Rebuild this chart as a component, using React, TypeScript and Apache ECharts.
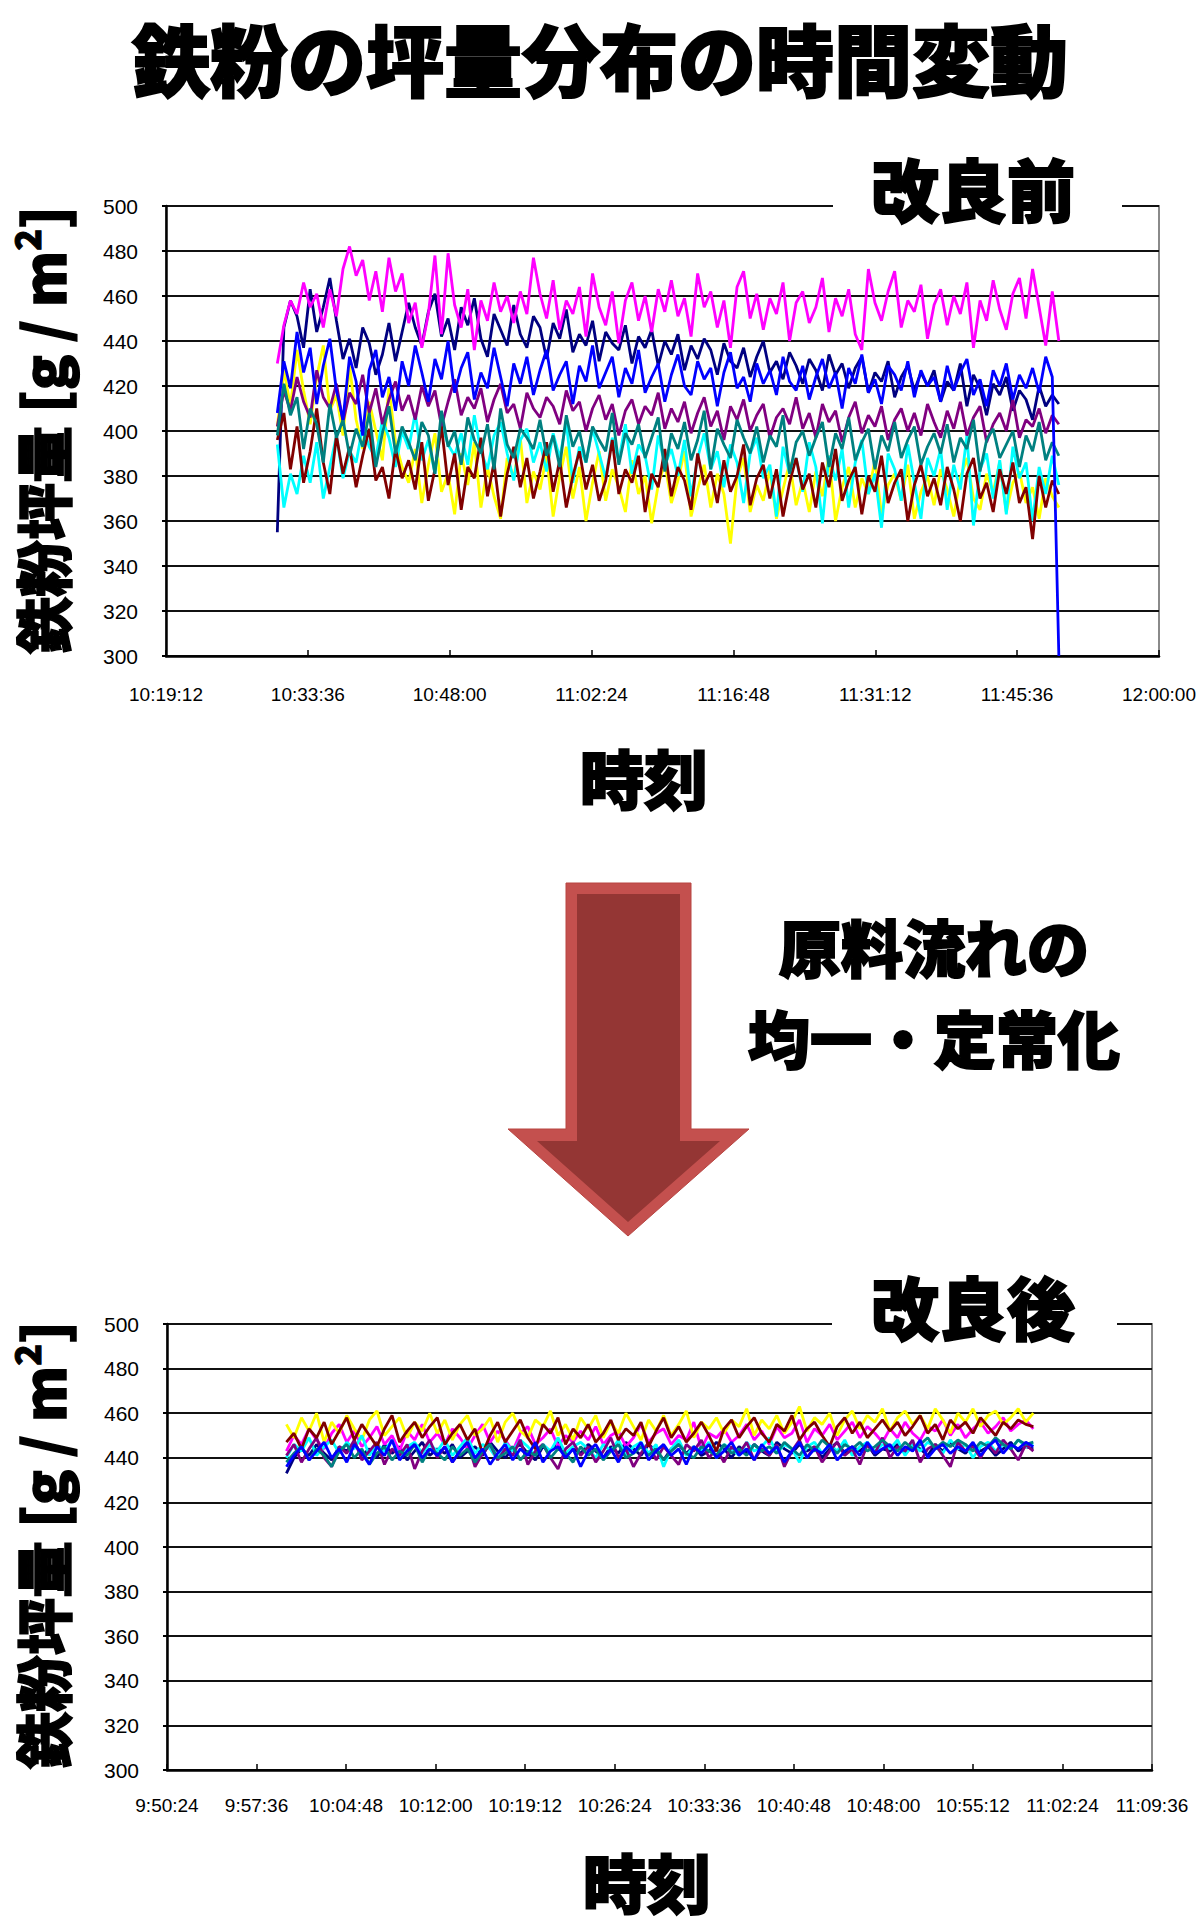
import React, { useEffect, useRef } from "react";
import * as echarts from "echarts";

// ---- tick labels ----
const topTimeTicks = ["10:19:12", "10:33:36", "10:48:00", "11:02:24", "11:16:48", "11:31:12", "11:45:36", "12:00:00"];
const bottomTimeTicks = ["9:50:24", "9:57:36", "10:04:48", "10:12:00", "10:19:12", "10:26:24", "10:33:36", "10:40:48", "10:48:00", "10:55:12", "11:02:24", "11:09:36"];
const yTicks = [300, 320, 340, 360, 380, 400, 420, 440, 460, 480, 500];

// ---- series (Excel default line colours, drawing order) ----
const seriesNames = ["系列1", "系列2", "系列3", "系列4", "系列5", "系列6", "系列7", "系列8"];
const seriesColors = ["#000080", "#FF00FF", "#FFFF00", "#00FFFF", "#800080", "#800000", "#008080", "#0000FF"];

// sampling of the two recordings
const topStart = "10:30:30";
const topStepSec = 40;
const bottomStart = "10:00:00";
const bottomStepSec = 36.4;

// ---- 改良前 (before) ----
const beforeNavy = [
  355, 446, 458, 451, 437, 463, 444, 455, 468, 449, 432, 441, 428, 446, 439, 425, 434, 448, 431, 444,
  457, 446, 438, 453, 461, 442, 450, 436, 455, 447, 459, 441, 433, 452, 445, 438, 456, 443, 437, 451,
  446, 432, 448, 441, 454, 435, 443, 438, 449, 431, 444, 439, 436, 447, 430, 442, 437, 445, 429, 440,
  434, 443, 427, 438, 432, 441, 436, 425, 439, 431, 428, 437, 424, 433, 440, 426, 431, 423, 435, 429,
  421, 432, 427, 418, 434, 425, 430, 419, 428, 433, 417, 426, 422, 431, 415, 424, 429, 418, 426, 420,
  427, 413, 422, 418, 430, 411, 425, 419, 407, 421, 416, 424, 409, 418, 414, 405, 420, 411, 416, 412,
];
const beforeMagenta = [
  430, 447, 458, 452, 466, 455, 461, 446, 463, 451, 472, 482, 469, 476, 458, 471, 453, 477, 462, 470,
  448, 457, 437, 452, 478, 443, 479, 456, 446, 463, 436, 458, 449, 466, 453, 460, 448, 462, 452, 477,
  461, 450, 467, 445, 458, 452, 464, 442, 470, 455, 447, 462, 439, 458, 466, 449, 460, 444, 463, 453,
  467, 451, 459, 442, 470, 455, 462, 446, 458, 437, 464, 471, 450, 461, 445, 459, 452, 466, 440, 457,
  462, 448, 455, 468, 444, 459, 451, 463, 443, 436, 472, 457, 449, 462, 471, 446, 458, 453, 465, 441,
  456, 463, 447, 460, 452, 466, 437, 458, 449, 467, 454, 445, 461, 468, 450, 472, 455, 438, 462, 440,
];
const beforeYellow = [
  402, 427, 411, 436, 418, 403, 424, 438, 409, 416, 398, 429, 405, 392, 413, 400, 387, 419, 395, 384,
  377, 392, 368, 385, 399, 373, 381, 363, 390, 376, 395, 366, 384, 371, 361, 388, 379, 397, 368, 382,
  374, 389, 362, 380, 393, 370, 384, 360, 377, 391, 369, 383, 375, 364, 387, 372, 380, 359, 376, 386,
  368, 378, 391, 362, 374, 385, 366, 381, 372, 350, 379, 388, 364, 376, 369, 383, 361, 374, 386, 367,
  378, 364, 382, 371, 389, 360, 375, 384, 366, 379, 372, 387, 363, 376, 381, 369, 385, 361, 373, 380,
  367, 383, 374, 362, 379, 388, 370, 365, 381, 373, 386, 364, 377, 382, 368, 375, 361, 379, 371, 366,
];
const beforeCyan = [
  394, 366, 381, 372, 389, 377, 395, 370, 384, 398, 379, 391, 386, 402, 393, 388, 405, 397, 384, 400,
  392, 408, 387, 396, 381, 403, 394, 389, 399, 385, 407, 391, 383, 398, 404, 390, 378, 396, 401, 386,
  395, 382, 399, 388, 404, 377, 393, 386, 401, 390, 379, 397, 387, 403, 381, 394, 389, 374, 398, 385,
  392, 380, 396, 371, 388, 399, 383, 391, 375, 394, 386, 368, 390, 397, 379, 385, 362, 393, 381, 388,
  373, 395, 384, 359, 389, 378, 392, 366, 386, 396, 372, 381, 357, 390, 383, 369, 394, 377, 361, 388,
  380, 392, 365, 385, 374, 398, 358, 383, 390, 370, 387, 363, 393, 379, 386, 360, 384, 372, 389, 376,
];
const beforePurple = [
  402, 418, 409, 424, 413, 406, 427, 415, 410, 421, 404, 417, 412, 425, 408, 419, 403, 414, 422, 409,
  416, 405, 420, 411, 418, 402, 413, 423, 407, 415, 410, 419, 404, 414, 421, 408, 412, 401, 417, 410,
  406, 415, 411, 403, 418, 409, 413, 400, 410, 416, 405, 412, 398, 409, 414, 403, 411, 407, 417, 401,
  410, 404, 413, 399, 408, 415, 402, 409, 396, 411, 405, 414, 400, 407, 412, 397, 406, 410, 403, 415,
  401, 408, 397, 412, 404, 409, 395, 406, 413, 399, 407, 402, 411, 396, 405, 410, 400, 408, 398, 412,
  404, 397, 409, 401, 413, 398, 406, 411, 395, 403, 408, 400, 414, 397, 405, 402, 410, 399, 407, 403,
];
const beforeDarkRed = [
  396, 408, 383, 402, 377, 391, 410, 386, 372, 398, 381, 393, 375, 389, 401, 378, 384, 370, 392, 379,
  387, 374, 395, 369, 383, 402, 376, 390, 365, 384, 379, 397, 371, 386, 362, 381, 393, 375, 388, 370,
  382, 395, 373, 387, 366, 380, 391, 374, 385, 369, 378, 396, 372, 383, 377, 389, 364, 381, 375, 392,
  371, 384, 378, 365, 390, 376, 382, 368, 387, 373, 380, 394, 367, 379, 385, 370, 383, 362, 377, 388,
  374, 381, 366, 386, 375, 392, 369, 378, 384, 363, 380, 373, 389, 368, 377, 383, 360, 376, 385, 371,
  379, 367, 384, 374, 360, 381, 388, 370, 377, 364, 383, 372, 386, 368, 375, 352, 380, 366, 378, 372,
];
const beforeTeal = [
  398, 421, 407, 415, 392, 410, 403, 386, 412, 397, 405, 389, 401, 393, 408, 384, 399, 411, 390, 402,
  395, 387, 404, 398, 381, 409, 393, 400, 385, 406, 396, 390, 403, 383, 410, 394, 388, 401, 397, 392,
  405, 389, 398, 384, 407, 393, 400, 386, 402, 396, 391, 408, 385, 399, 394, 403, 388, 397, 406, 382,
  399, 392, 404, 387, 396, 409, 383, 401, 394, 388, 405, 397, 390, 402, 386, 398, 393, 407, 381, 395,
  400, 389, 397, 404, 384, 399, 392, 406, 387, 395, 401, 383, 398, 391, 404, 388, 396, 402, 385, 393,
  399, 390, 403, 386, 397, 392, 405, 382, 396, 401, 388, 394, 400, 384, 398, 391, 404, 387, 395, 389,
];
const beforeBlue = [
  408, 431, 419, 444, 426, 437, 412, 429, 441, 418, 405, 433, 422, 398, 427, 436, 415, 424, 409, 431,
  420, 438, 426, 413, 432, 423, 440, 417, 428, 435, 414, 426, 419, 437, 424, 411, 430, 421, 433, 416,
  427, 436, 418, 425, 431, 412, 429, 422, 438, 419, 426, 433, 415, 428, 421, 436, 417, 424, 430, 413,
  425, 434, 420, 416, 431, 423, 428, 411, 426, 435, 419, 424, 413, 430, 421, 427, 416, 433, 422, 418,
  429, 414, 424, 432, 419, 426, 410, 428, 421, 434, 417, 423, 412, 429, 425, 418, 431, 415, 427, 420,
  424, 413, 429, 418, 426, 432, 416, 423, 411, 427, 420, 430, 414, 425, 419, 428, 417, 433, 424, 300,
];

// ---- 改良後 (after) ----
const afterNavy = [
  433, 440, 444, 441, 446, 442, 439, 445, 443, 447, 441, 444, 440, 446, 442, 445, 439, 443, 447, 441,
  444, 442, 446, 440, 443, 445, 441, 447, 443, 440, 444, 446, 442, 439, 445, 443, 447, 441, 444, 442,
  446, 443, 440, 445, 442, 447, 444, 441, 446, 443, 439, 444, 446, 442, 445, 441, 443, 447, 444, 440,
  445, 442, 446, 443, 441, 447, 444, 442, 446, 443, 445, 440, 444, 447, 442, 445, 443, 446, 441, 444,
  443, 446, 442, 445, 444, 441, 446, 443, 447, 444, 442, 446, 443, 445, 441, 444, 447, 443, 445, 444,
];
const afterMagenta = [
  443, 450, 446, 453, 448, 444, 451, 455, 447, 452, 445, 449, 454, 446, 450, 443, 452, 448, 455, 447,
  451, 446, 453, 449, 444, 450, 455, 447, 452, 448, 443, 451, 454, 446, 449, 453, 445, 450, 447, 452,
  448, 454, 446, 450, 452, 445, 449, 455, 447, 451, 453, 446, 450, 448, 456, 444, 451, 449, 453, 447,
  450, 455, 448, 452, 446, 454, 449, 451, 457, 447, 453, 450, 455, 448, 452, 456, 449, 454, 451, 447,
  453, 449, 456, 451, 448, 454, 452, 457, 450, 455, 449, 453, 456, 451, 454, 458, 452, 455, 457, 453,
];
const afterYellow = [
  455, 449, 458, 452, 460, 447, 456, 451, 459, 453, 448, 457, 461, 450, 454, 458, 449, 456, 452, 460,
  451, 457, 448, 455, 459, 450, 453, 458, 447, 456, 460, 452, 449, 457, 454, 461, 450, 455, 448, 458,
  453, 459, 449, 456, 451, 460, 454, 448, 457, 452, 459, 450, 455, 461, 449, 456, 453, 458, 451, 457,
  454, 462, 450, 457, 453, 459, 451, 456, 463, 452, 458, 455, 460, 450, 457, 461, 453, 459, 456, 462,
  452, 458, 461, 455, 459, 453, 462, 457, 451, 460, 456, 462, 454, 459, 461, 455, 458, 462, 456, 460,
];
const afterCyan = [
  440, 446, 443, 449, 441, 445, 448, 442, 447, 444, 450, 441, 446, 443, 448, 440, 445, 447, 442, 446,
  443, 448, 441, 445, 449, 442, 446, 444, 439, 447, 443, 448, 445, 441, 446, 443, 449, 442, 445, 447,
  444, 440, 446, 443, 448, 441, 445, 447, 442, 446, 436, 444, 448, 441, 445, 443, 447, 440, 446, 444,
  441, 447, 443, 445, 449, 442, 446, 444, 438, 445, 447, 442, 446, 443, 448, 441, 445, 447, 443, 446,
  444, 448, 441, 446, 443, 447, 445, 442, 448, 444, 446, 440, 445, 447, 443, 446, 444, 448, 445, 446,
];
const afterPurple = [
  441, 446, 438, 444, 449, 440, 436, 445, 442, 448, 439, 443, 447, 437, 444, 441, 446, 435, 443, 448,
  440, 445, 438, 443, 447, 436, 442, 446, 439, 444, 441, 448, 437, 443, 446, 440, 435, 444, 447, 441,
  445, 438, 443, 449, 440, 444, 436, 442, 447, 439, 445, 441, 437, 446, 443, 448, 440, 444, 438, 445,
  442, 447, 439, 444, 441, 446, 436, 443, 448, 440, 445, 438, 443, 447, 441, 444, 437, 446, 442, 449,
  440, 445, 443, 448, 438, 444, 446, 441, 436, 447, 443, 445, 440, 446, 442, 448, 444, 439, 446, 443,
];
const afterDarkRed = [
  447, 451, 444, 453, 449, 456, 446, 452, 458, 448, 455, 450, 445, 453, 459, 447, 452, 456, 449, 454,
  458, 446, 451, 455, 448, 453, 442, 450, 456, 447, 452, 457, 449, 444, 455, 451, 458, 446, 453, 449,
  455, 447, 451, 457, 448, 453, 450, 456, 445, 452, 458, 449, 454, 447, 451, 456, 450, 443, 453, 457,
  449, 454, 458, 451, 447, 455, 452, 459, 448, 453, 456, 450, 445, 454, 458, 451, 456, 449, 453, 457,
  452, 456, 450, 454, 459, 451, 455, 448, 457, 453, 456, 451, 458, 454, 450, 456, 453, 457, 455, 454,
];
const afterTeal = [
  438, 442, 445, 439, 444, 441, 436, 443, 446, 440, 444, 437, 442, 445, 439, 443, 441, 446, 438, 444,
  442, 439, 445, 441, 444, 438, 443, 446, 440, 442, 445, 439, 443, 441, 446, 440, 444, 442, 438, 445,
  441, 444, 439, 443, 446, 440, 442, 445, 441, 444, 439, 443, 446, 442, 440, 445, 443, 441, 446, 442,
  444, 441, 446, 443, 445, 442, 447, 444, 441, 446, 443, 448, 445, 442, 446, 444, 447, 443, 445, 448,
  445, 443, 447, 444, 446, 449, 444, 447, 445, 448, 446, 443, 447, 445, 449, 446, 444, 448, 446, 447,
];
const afterBlue = [
  436, 441, 445, 439, 443, 447, 440, 444, 438, 446, 442, 437, 445, 441, 448, 439, 443, 446, 440, 444,
  441, 445, 438, 443, 447, 440, 444, 437, 442, 446, 439, 444, 441, 447, 438, 443, 445, 440, 444, 436,
  443, 446, 440, 444, 438, 445, 442, 447, 439, 443, 446, 441, 444, 437, 445, 442, 446, 440, 443, 447,
  441, 444, 439, 446, 442, 445, 438, 443, 447, 440, 444, 442, 446, 439, 443, 445, 441, 447, 442, 444,
  446, 441, 445, 443, 448, 440, 444, 446, 442, 445, 443, 447, 441, 445, 448, 442, 446, 444, 447, 445,
];

const beforeSeries = [beforeNavy, beforeMagenta, beforeYellow, beforeCyan, beforePurple, beforeDarkRed, beforeTeal, beforeBlue];
const afterSeries = [afterNavy, afterMagenta, afterYellow, afterCyan, afterPurple, afterDarkRed, afterTeal, afterBlue];

const FONT_NUM = "'Liberation Sans Narrow', 'Arial Narrow', 'Liberation Sans', Arial, sans-serif";
const FONT_JP = "'Noto Sans CJK JP', 'Noto Sans CJK SC', sans-serif";

function toSec(t: string): number {
  const [h, m, s] = t.split(":").map(Number);
  return h * 3600 + m * 60 + s;
}

function pairs(values: number[], start: string, step: number) {
  const t0 = toSec(start);
  return values.map((v, i) => [t0 + i * step, v]);
}

function xAxisFor(gridIndex: number, ticks: string[], margin: number) {
  const min = toSec(ticks[0]);
  const interval = toSec(ticks[1]) - min;
  const max = toSec(ticks[ticks.length - 1]);
  return {
    type: "value",
    gridIndex,
    min,
    max,
    interval,
    axisLine: { show: true, lineStyle: { color: "#000", width: 2.5 } },
    axisTick: { show: true, inside: true, length: 6, lineStyle: { color: "#000", width: 1.5 } },
    splitLine: { show: false },
    axisLabel: {
      show: true,
      margin,
      hideOverlap: false,
      showMinLabel: true,
      showMaxLabel: true,
      color: "#000",
      fontSize: 19,
      fontFamily: FONT_NUM,
      formatter: (v: number) => ticks[Math.round((v - min) / interval)] ?? "",
    },
  };
}

function yAxisFor(gridIndex: number) {
  return {
    type: "value",
    gridIndex,
    min: yTicks[0],
    max: yTicks[yTicks.length - 1],
    interval: yTicks[1] - yTicks[0],
    axisLine: { show: true, lineStyle: { color: "#000", width: 2.5 } },
    axisTick: { show: true, length: 4, lineStyle: { color: "#000", width: 2 } },
    splitLine: { show: true, lineStyle: { color: "#111", width: 2.2 } },
    axisLabel: {
      show: true,
      margin: 28,
      color: "#000",
      fontSize: 21,
      fontFamily: FONT_NUM,
      formatter: (v: number) => String(v),
    },
  };
}

function bold(text: string, x: number, y: number, size: number, extraStyle: any = {}) {
  return {
    type: "text",
    x,
    y,
    z: 100,
    style: {
      text,
      fill: "#000",
      stroke: "#000",
      lineWidth: 2,
      fontSize: size,
      fontWeight: 900,
      fontFamily: FONT_JP,
      align: "center",
      verticalAlign: "middle",
      ...extraStyle,
    },
  };
}

function yName(x: number, y: number) {
  return {
    type: "text",
    x,
    y,
    z: 100,
    rotation: Math.PI / 2,
    style: {
      text: "{a|鉄粉坪量 [g / m}{s|2}{a|]}",
      align: "center",
      verticalAlign: "middle",
      rich: {
        a: { fontSize: 57, fontWeight: 900, fontFamily: FONT_JP, fill: "#000", stroke: "#000", lineWidth: 1.5, lineHeight: 62, verticalAlign: "bottom" },
        s: { fontSize: 36, fontWeight: 900, fontFamily: FONT_JP, fill: "#000", stroke: "#000", lineWidth: 1, lineHeight: 62, verticalAlign: "top" },
      },
    },
  };
}

export default function App() {
  const ref = useRef<HTMLDivElement>(null);

  useEffect(() => {
    document.body.style.margin = "0";
    if (!ref.current) return;
    const chart = echarts.init(ref.current, undefined, { renderer: "svg" });

    const series: any[] = [];
    beforeSeries.forEach((vals, i) => {
      series.push({
        type: "line",
        name: seriesNames[i],
        xAxisIndex: 0,
        yAxisIndex: 0,
        data: pairs(vals, topStart, topStepSec),
        symbol: "none",
        lineStyle: { color: seriesColors[i], width: 2.8 },
        itemStyle: { color: seriesColors[i] },
        z: 2 + i,
      });
    });
    afterSeries.forEach((vals, i) => {
      series.push({
        type: "line",
        name: seriesNames[i],
        xAxisIndex: 1,
        yAxisIndex: 1,
        data: pairs(vals, bottomStart, bottomStepSec),
        symbol: "none",
        lineStyle: { color: seriesColors[i], width: 2.8 },
        itemStyle: { color: seriesColors[i] },
        z: 2 + i,
      });
    });

    const option: any = {
      animation: false,
      backgroundColor: "#fff",
      grid: [
        { left: 166, top: 206, width: 993, height: 450, show: true, borderColor: "#8a8a8a", borderWidth: 2, backgroundColor: "transparent" },
        { left: 167, top: 1324, width: 985, height: 446, show: true, borderColor: "#8a8a8a", borderWidth: 2, backgroundColor: "transparent" },
      ],
      xAxis: [xAxisFor(0, topTimeTicks, 29), xAxisFor(1, bottomTimeTicks, 26)],
      yAxis: [yAxisFor(0), yAxisFor(1)],
      series,
      graphic: [
        bold("鉄粉の坪量分布の時間変動", 600, 57, 78),
        { type: "rect", z: 99, shape: { x: 833, y: 197, width: 289, height: 20 }, style: { fill: "#fff" } },
        bold("改良前", 973, 187, 68),
        { type: "rect", z: 99, shape: { x: 832, y: 1315, width: 285, height: 20 }, style: { fill: "#fff" } },
        bold("改良後", 973, 1305, 68),
        yName(38, 430),
        yName(38, 1545),
        bold("時刻", 644, 776, 64),
        bold("時刻", 647, 1880, 64),
        {
          type: "polygon",
          z: 100,
          shape: { points: [[566, 883], [691, 883], [691, 1129], [749, 1129], [628, 1236], [508, 1129], [566, 1129]] },
          style: { fill: "#c4504e", stroke: "#b84441", lineWidth: 1 },
        },
        {
          type: "polygon",
          z: 101,
          shape: { points: [[577, 894], [680, 894], [680, 1141], [720, 1141], [628, 1222], [537, 1141], [577, 1141]] },
          style: { fill: "#943634" },
        },
        bold("原料流れの", 934, 946, 62),
        bold("均一・定常化", 934, 1037, 62),
      ],
    };

    chart.setOption(option);
    return () => chart.dispose();
  }, []);

  return <div ref={ref} style={{ width: 1200, height: 1928 }} />;
}
